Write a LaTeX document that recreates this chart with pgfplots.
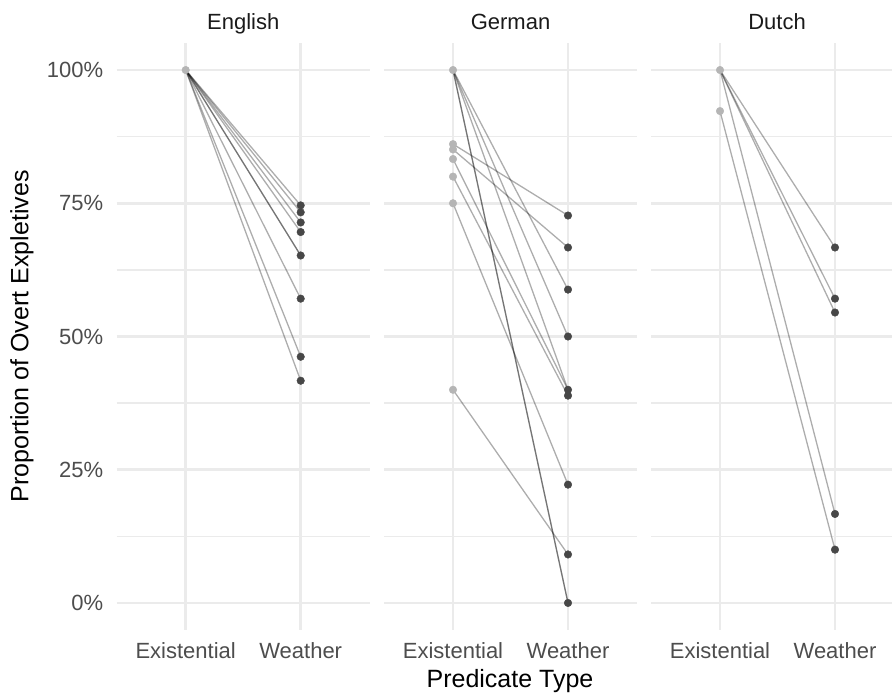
\documentclass[border=0pt]{standalone}
\usepackage{pgfplots}
\pgfplotsset{compat=1.18}
\usepackage{fontspec}
\setmainfont{Liberation Sans}
\definecolor{gridc}{HTML}{EBEBEB}
\definecolor{tickc}{HTML}{4D4D4D}
\definecolor{stripc}{HTML}{1A1A1A}
\definecolor{exc}{HTML}{B5B5B5}
\definecolor{wec}{HTML}{474747}
\pgfplotsset{
  panel/.style={
    scale only axis, height=586.2pt,
    xmin=0.4, ymin=-5, ymax=105,
    axis line style={draw=none},
    xtick={1,2}, xticklabels={Existential,Weather},
    ytick={0,25,50,75,100}, minor ytick={12.5,37.5,62.5,87.5},
    xmajorgrids, ymajorgrids, yminorgrids,
    major grid style={color=gridc, line width=2.6pt},
    minor grid style={color=gridc, line width=1.4pt},
    major tick length=0pt, minor tick length=0pt,
    tick style={draw=none},
    tick label style={font=\fontsize{22}{22}\selectfont, text=tickc},
    xticklabel style={yshift=-9pt},
    yticklabels={},
    title style={font=\fontsize{22}{22}\selectfont, text=stripc, anchor=base, yshift=8pt},
    clip=false,
  },
  pair/.style={no marks, draw=black, draw opacity=0.32, line width=1.3pt, forget plot},
  ex/.style={only marks, mark=*, mark size=3.8pt, color=exc, forget plot},
  we/.style={only marks, mark=*, mark size=3.8pt, color=wec, forget plot},
}
\begin{document}
\begin{tikzpicture}
\useasboundingbox (0,0) rectangle (892pt,695pt);
% English
\begin{axis}[panel, at={(116.7pt,65.4pt)}, anchor=south west, width=253pt, xmax=2.6,
  title={English}, title style={at={(0.5,1)}}, yticklabels={0\%,25\%,50\%,75\%,100\%}, yticklabel style={xshift=-10pt}]
\addplot[pair] coordinates {(1,100) (2,74.6)};
\addplot[pair] coordinates {(1,100) (2,73.3)};
\addplot[pair] coordinates {(1,100) (2,71.4)};
\addplot[pair] coordinates {(1,100) (2,69.6)};
\addplot[pair] coordinates {(1,100) (2,65.2)};
\addplot[pair] coordinates {(1,100) (2,65.2)};
\addplot[pair] coordinates {(1,100) (2,57.1)};
\addplot[pair] coordinates {(1,100) (2,46.2)};
\addplot[pair] coordinates {(1,100) (2,41.7)};
\addplot[ex] coordinates {(1,100)};
\addplot[we] coordinates {(2,74.6) (2,73.3) (2,71.4) (2,69.6) (2,65.2) (2,57.1) (2,46.2) (2,41.7)};
\end{axis}
% German
\begin{axis}[panel, at={(384pt,65.4pt)}, anchor=south west, width=253pt, xmax=2.6,
  title={German}, title style={at={(0.5,1)}}]
\addplot[pair] coordinates {(1,100) (2,0)};
\addplot[pair] coordinates {(1,100) (2,0)};
\addplot[pair] coordinates {(1,100) (2,40)};
\addplot[pair] coordinates {(1,100) (2,50)};
\addplot[pair] coordinates {(1,100) (2,58.8)};
\addplot[pair] coordinates {(1,86.1) (2,72.7)};
\addplot[pair] coordinates {(1,85.1) (2,66.7)};
\addplot[pair] coordinates {(1,83.3) (2,40)};
\addplot[pair] coordinates {(1,80) (2,38.9)};
\addplot[pair] coordinates {(1,75) (2,22.2)};
\addplot[pair] coordinates {(1,40) (2,9.1)};
\addplot[ex] coordinates {(1,100) (1,86.1) (1,85.1) (1,83.3) (1,80) (1,75) (1,40)};
\addplot[we] coordinates {(2,72.7) (2,66.7) (2,58.8) (2,50) (2,40) (2,38.9) (2,22.2) (2,9.1) (2,0)};
\end{axis}
% Dutch
\begin{axis}[panel, at={(651pt,65.4pt)}, anchor=south west, width=241pt, xmax=2.4957,
  title={Dutch}, title style={at={(0.523,1)}}]
\addplot[pair] coordinates {(1,100) (2,66.7)};
\addplot[pair] coordinates {(1,100) (2,57.1)};
\addplot[pair] coordinates {(1,100) (2,54.5)};
\addplot[pair] coordinates {(1,100) (2,16.7)};
\addplot[pair] coordinates {(1,92.3) (2,10)};
\addplot[ex] coordinates {(1,100) (1,92.3)};
\addplot[we] coordinates {(2,66.7) (2,57.1) (2,54.5) (2,16.7) (2,10)};
\end{axis}
\node[rotate=90, font=\fontsize{25}{25}\selectfont] at (22pt,358.5pt) {Proportion of Overt Expletives};
\node[font=\fontsize{25}{25}\selectfont] at (510pt,14pt) {Predicate Type};
\end{tikzpicture}
\end{document}
